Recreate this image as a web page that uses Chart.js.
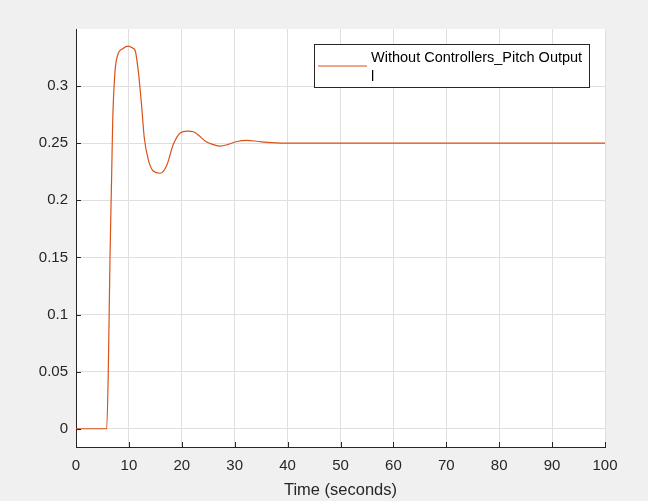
<!DOCTYPE html>
<html>
<head>
<meta charset="utf-8">
<script src="https://cdn.jsdelivr.net/npm/chart.js@4.4.0/dist/chart.umd.min.js"></script>
<style>
    html, body { margin: 0; padding: 0; background: #f0f0f0; }
    #wrap { width: 648px; height: 501px; }
</style>
</head>
<body>
<div id="wrap"><canvas id="pitchChart" width="648" height="501"></canvas></div>
<script>
// Pitch response without controllers
const timeSec = [0, 5.8, 6.1, 6.43, 6.75, 6.93, 7.36, 7.87, 8.9, 9.9, 10.8, 11.2, 11.8, 12.4, 12.9,
    13.7, 14.6, 15.9, 17.1, 18.4, 19.7, 21.0, 22.2, 23.3, 24.4, 25.8, 27.2, 28.8, 30.4, 32.3,
    34.5, 37, 40, 50, 60, 70, 80, 90, 100];
const pitchOutput = [0, 0, 0.049, 0.151, 0.224, 0.268, 0.312, 0.327, 0.333, 0.335, 0.333, 0.331, 0.312, 0.283, 0.255,
    0.235, 0.2257, 0.2237, 0.230, 0.249, 0.259, 0.2605, 0.260, 0.2565, 0.252, 0.249, 0.2475, 0.249, 0.2515, 0.2525,
    0.2515, 0.2505, 0.25, 0.25, 0.25, 0.25, 0.25, 0.25, 0.25];

const xTicks = [0, 10, 20, 30, 40, 50, 60, 70, 80, 90, 100];
const yTicks = [0, 0.05, 0.1, 0.15, 0.2, 0.25, 0.3];
const legendLines = ['Without Controllers_Pitch Output', 'l'];

const LINE_COLOR = '#D95319';
const AXIS_COLOR = '#262626';
const GRID_COLOR = '#dfdfdf';
const FONT = '"Liberation Sans", Arial, sans-serif';

// Backgrounds, inner tick marks and the boxed legend (MATLAB look)
const matlabLook = {
    id: 'matlabLook',
    beforeDraw(chart) {
        const { ctx, chartArea: a } = chart;
        ctx.save();
        ctx.fillStyle = '#f0f0f0';
        ctx.fillRect(0, 0, chart.width, chart.height);
        ctx.fillStyle = '#ffffff';
        ctx.fillRect(a.left, a.top, a.right - a.left, a.bottom - a.top);
        ctx.restore();
    },
    afterDatasetsDraw(chart) {
        const { ctx, chartArea: a, scales } = chart;
        ctx.save();
        ctx.strokeStyle = AXIS_COLOR;
        ctx.lineWidth = 1;
        ctx.beginPath();
        xTicks.forEach(v => {
            const px = Math.round(scales.x.getPixelForValue(v)) + 0.5;
            ctx.moveTo(px, a.bottom);
            ctx.lineTo(px, a.bottom - 5);
        });
        yTicks.forEach(v => {
            const py = Math.round(scales.y.getPixelForValue(v)) + 0.5;
            ctx.moveTo(a.left, py);
            ctx.lineTo(a.left + 5, py);
        });
        ctx.stroke();

        // legend box
        const bx = 314.5, by = 44.5, bw = 275, bh = 43;
        ctx.fillStyle = '#ffffff';
        ctx.fillRect(bx, by, bw, bh);
        ctx.strokeStyle = '#262626';
        ctx.strokeRect(bx, by, bw, bh);
        ctx.strokeStyle = LINE_COLOR;
        ctx.lineWidth = 1.2;
        ctx.beginPath();
        ctx.moveTo(318, 66);
        ctx.lineTo(367, 66);
        ctx.stroke();
        ctx.fillStyle = '#000000';
        ctx.font = '14.5px ' + FONT;
        ctx.textBaseline = 'middle';
        ctx.fillText(legendLines[0], 371, 58);
        ctx.fillText(legendLines[1], 371, 77);
        ctx.restore();
    }
};

function initChart() {
    const ctx = document.getElementById('pitchChart').getContext('2d');
    new Chart(ctx, {
        type: 'line',
        data: {
            datasets: [{
                label: legendLines.join(' '),
                data: timeSec.map((t, i) => ({ x: t, y: pitchOutput[i] })),
                borderColor: LINE_COLOR,
                borderWidth: 1.2,
                pointRadius: 0,
                fill: false,
                cubicInterpolationMode: 'monotone'
            }]
        },
        options: {
            responsive: false,
            animation: false,
            layout: { padding: { left: 0, top: 29, right: 43, bottom: 0 } },
            plugins: {
                legend: { display: false },
                tooltip: { enabled: false }
            },
            scales: {
                x: {
                    type: 'linear',
                    min: 0,
                    max: 100,
                    afterBuildTicks: s => { s.ticks = xTicks.map(v => ({ value: v })); },
                    afterFit: s => { s.height = 54; },
                    grid: { color: GRID_COLOR, drawTicks: false },
                    border: { color: AXIS_COLOR, width: 1 },
                    ticks: {
                        color: AXIS_COLOR,
                        padding: 10,
                        maxRotation: 0,
                        font: { family: FONT, size: 15 }
                    },
                    title: {
                        display: true,
                        text: 'Time (seconds)',
                        color: AXIS_COLOR,
                        padding: { top: 0, bottom: 1 },
                        font: { family: FONT, size: 16.5 }
                    }
                },
                y: {
                    type: 'linear',
                    min: -0.016,
                    max: 0.35,
                    afterBuildTicks: s => { s.ticks = yTicks.map(v => ({ value: v })); },
                    afterFit: s => { s.width = 76; },
                    grid: { color: GRID_COLOR, drawTicks: false },
                    border: { color: AXIS_COLOR, width: 1 },
                    ticks: {
                        color: AXIS_COLOR,
                        padding: 8,
                        font: { family: FONT, size: 15 },
                        callback: v => String(+v.toFixed(2))
                    }
                }
            }
        },
        plugins: [matlabLook]
    });
}

document.addEventListener('DOMContentLoaded', initChart);
</script>
</body>
</html>
